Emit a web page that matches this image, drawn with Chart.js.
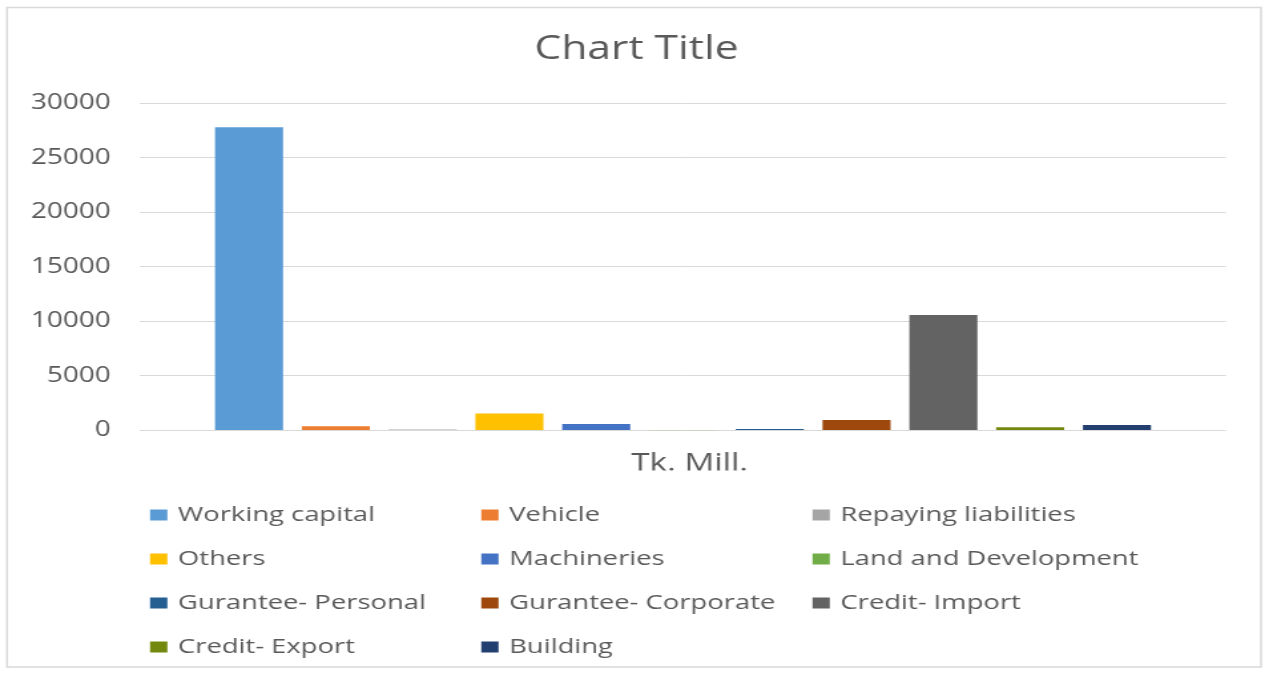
<!DOCTYPE html>
<html>
<head>
<meta charset="utf-8">
<title>Chart Title</title>
<script src="https://cdn.jsdelivr.net/npm/chart.js@4/dist/chart.umd.min.js"></script>
<style>
  html, body { margin: 0; padding: 0; background: #ffffff; overflow: hidden; }
  #frame {
    position: absolute; left: 0; top: 0;
    width: 951px; height: 673px;
    transform: scale(1.3302, 1);
    transform-origin: 0 0;
  }
  #chart { display: block; }
</style>
</head>
<body>
<div id="frame"><canvas id="chart" width="951" height="673"></canvas></div>
<script>
// Loan amounts by purpose, Tk. Mill.
const categories = ['Tk. Mill.'];
const seriesNames = [
  'Working capital', 'Vehicle', 'Repaying liabilities',
  'Others', 'Machineries', 'Land and Development',
  'Gurantee- Personal', 'Gurantee- Corporate', 'Credit- Import',
  'Credit- Export', 'Building'
];
const seriesValues = [27800, 400, 100, 1550, 600, 20, 130, 960, 10600, 290, 500];
const seriesColors = [
  '#5B9BD5', '#ED7D31', '#A5A5A5',
  '#FFC000', '#4472C4', '#70AD47',
  '#255E91', '#9E480E', '#636363',
  '#72880F', '#233F70'
];
const yTicks = [0, 5000, 10000, 15000, 20000, 25000, 30000];
const chartTitle = 'Chart Title';

const FONT = '"Open Sans", "Liberation Sans", sans-serif';
const TEXT = '#595959';
const GRID = '#D9D9D9';

// Thin frame around the whole chart
const chartFrame = {
  id: 'chartFrame',
  beforeDraw(chart, args, opts) {
    const ctx = chart.ctx;
    ctx.save();
    ctx.strokeStyle = opts.color;
    ctx.lineWidth = opts.lineWidth;
    ctx.strokeRect(opts.left, opts.top, chart.width - opts.left - opts.right, chart.height - opts.top - opts.bottom);
    ctx.restore();
  }
};

// Title centred over the whole chart box
const boxTitle = {
  id: 'boxTitle',
  afterDraw(chart, args, opts) {
    const ctx = chart.ctx;
    ctx.save();
    ctx.font = `${opts.fontSize}px ${FONT}`;
    ctx.fillStyle = opts.color;
    ctx.textAlign = 'center';
    ctx.textBaseline = 'middle';
    ctx.fillText(opts.text, chart.width / 2 + opts.shift, opts.y);
    ctx.restore();
  }
};

// Legend laid out as a fixed grid of columns under the plot
const gridLegend = {
  id: 'gridLegend',
  afterDraw(chart, args, opts) {
    const ctx = chart.ctx;
    ctx.save();
    ctx.font = `${opts.fontSize}px ${FONT}`;
    ctx.textBaseline = 'middle';
    ctx.textAlign = 'left';
    chart.data.datasets.forEach((ds, i) => {
      const col = i % opts.columns;
      const row = Math.floor(i / opts.columns);
      const x = opts.left + col * opts.colWidth;
      const y = opts.top + row * opts.rowHeight;
      ctx.fillStyle = ds.backgroundColor;
      ctx.fillRect(x, y - opts.boxHeight / 2, opts.boxWidth, opts.boxHeight);
      ctx.fillStyle = opts.color;
      ctx.fillText(ds.label, x + opts.boxWidth + opts.gap, y);
    });
    ctx.restore();
  }
};

const datasets = seriesNames.map((name, i) => ({
  label: name,
  data: [seriesValues[i]],
  backgroundColor: seriesColors[i],
  borderWidth: 0,
  categoryPercentage: 0.879,
  barPercentage: 0.784
}));

new Chart(document.getElementById('chart'), {
  type: 'bar',
  data: { labels: categories, datasets },
  plugins: [chartFrame, boxTitle, gridLegend],
  options: {
    responsive: false,
    animation: false,
    devicePixelRatio: 1,
    layout: { padding: { top: 103.3, left: 5, right: 29.3, bottom: 202.5 } },
    plugins: {
      legend: { display: false },
      tooltip: { enabled: false },
      title: { display: false },
      chartFrame: { color: GRID, lineWidth: 1.5, left: 5.3, top: 7.5, right: 3, bottom: 6 },
      boxTitle: { text: chartTitle, fontSize: 32, color: TEXT, shift: 3, y: 50 },
      gridLegend: {
        columns: 3, left: 112.8, colWidth: 249, top: 515, rowHeight: 44,
        boxWidth: 13, boxHeight: 11, gap: 8, fontSize: 20.6, color: TEXT
      }
    },
    scales: {
      x: {
        grid: { display: false, drawTicks: false },
        border: { display: false },
        ticks: {
          color: TEXT,
          font: { family: FONT, size: 25 },
          padding: 18,
          labelOffset: 5
        },
        afterFit(scale) { scale.height = 40; }
      },
      y: {
        min: 0,
        max: 30000,
        grid: { color: GRID, lineWidth: 1, drawTicks: false },
        border: { display: false },
        afterBuildTicks(scale) { scale.ticks = yTicks.map(v => ({ value: v })); },
        ticks: {
          color: TEXT,
          font: { family: FONT, size: 21 },
          padding: 22,
          callback: v => String(v)
        },
        afterFit(scale) { scale.width = 100.2; }
      }
    }
  }
});
</script>
</body>
</html>
